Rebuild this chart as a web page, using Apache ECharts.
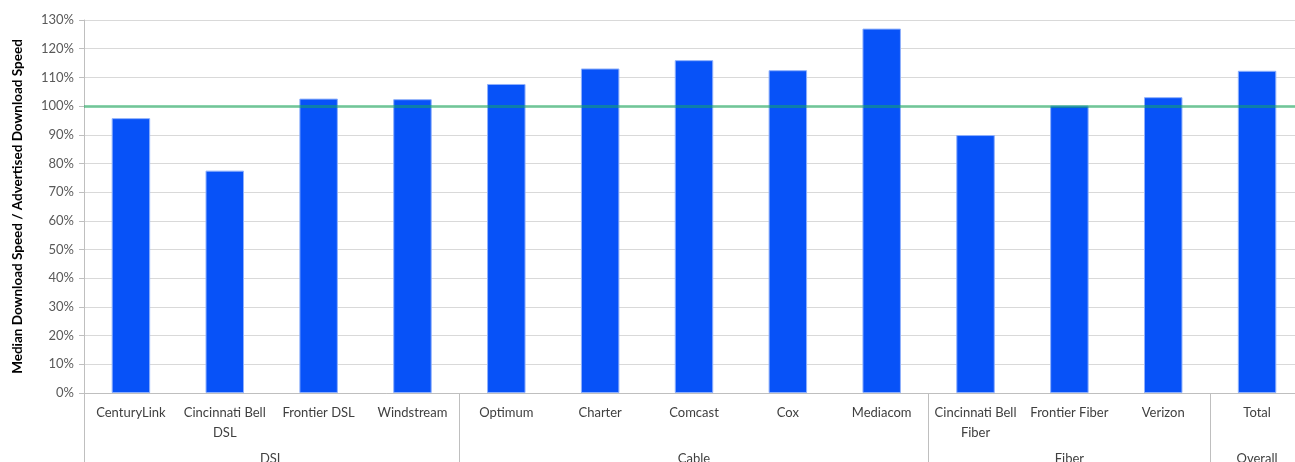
<!DOCTYPE html>
<html>
<head>
<meta charset="utf-8">
<script src="https://cdn.jsdelivr.net/npm/echarts@6/dist/echarts.min.js"></script>
<style>
  html, body { margin: 0; padding: 0; background: #ffffff; }
  #chart { width: 1295px; height: 462px; }
</style>
</head>
<body>
<div id="chart"></div>
<script>
// ---- data ----
const categories = ['CenturyLink', 'Cincinnati Bell DSL', 'Frontier DSL', 'Windstream',
  'Optimum', 'Charter', 'Comcast', 'Cox', 'Mediacom',
  'Cincinnati Bell Fiber', 'Frontier Fiber', 'Verizon', 'Total'];
const ratios = [0.958, 0.775, 1.026, 1.024, 1.077, 1.131, 1.160, 1.125, 1.270, 0.899, 1.002, 1.031, 1.123];
const groupNames = ['DSL', 'Cable', 'Fiber', 'Overall'];
const groupSizes = [4, 5, 3, 1];
const yTicks = [0, 0.1, 0.2, 0.3, 0.4, 0.5, 0.6, 0.7, 0.8, 0.9, 1.0, 1.1, 1.2, 1.3];
const referenceLevel = 1.0;
const yTitle = 'Median Download Speed / Advertised Download Speed';

// group boundaries and centers derived from group sizes
const boundaries = [0];
const centers = [];
groupSizes.forEach(function (s) {
  const start = boundaries[boundaries.length - 1];
  centers.push(start + s / 2);
  boundaries.push(start + s);
});

const font = 'Lato, "Noto Sans", sans-serif';
const chart = echarts.init(document.getElementById('chart'), null, { renderer: 'canvas' });

chart.setOption({
  animation: false,
  backgroundColor: '#ffffff',
  textStyle: { fontFamily: font },
  grid: { left: 84, top: 20, right: -9, bottom: 69, containLabel: false, outerBoundsMode: 'none' },
  xAxis: [
    {
      type: 'category',
      data: categories,
      boundaryGap: true,
      axisLine: { show: true, lineStyle: { color: '#bfbfbf', width: 1 } },
      axisTick: { show: false },
      axisLabel: {
        interval: 0,
        margin: 10,
        color: '#404040',
        fontSize: 13,
        fontFamily: font,
        lineHeight: 20,
        formatter: function (v) { return v.replace('Cincinnati Bell ', 'Cincinnati Bell\n'); }
      },
      splitLine: { show: false }
    },
    {
      type: 'value',
      position: 'bottom',
      min: 0,
      max: categories.length,
      axisLine: { show: false },
      axisTick: {
        show: true,
        customValues: boundaries,
        length: 72,
        inside: false,
        lineStyle: { color: '#bfbfbf', width: 1 }
      },
      axisLabel: {
        show: true,
        customValues: centers,
        margin: 59,
        color: '#404040',
        fontSize: 13,
        fontFamily: font,
        formatter: function (v) {
          for (let i = 0; i < centers.length; i++) {
            if (Math.abs(centers[i] - v) < 1e-6) return groupNames[i];
          }
          return '';
        }
      },
      splitLine: { show: false }
    }
  ],
  yAxis: {
    type: 'value',
    min: yTicks[0],
    max: yTicks[yTicks.length - 1],
    interval: yTicks[1] - yTicks[0],
    name: yTitle,
    nameLocation: 'middle',
    nameRotate: 90,
    nameGap: 59,
    nameTextStyle: { fontFamily: font, fontSize: 13.5, fontWeight: 'bold', color: '#000000' },
    axisLine: { show: true, lineStyle: { color: '#bfbfbf', width: 1 } },
    axisTick: { show: true, length: 5, lineStyle: { color: '#bfbfbf' } },
    axisLabel: {
      margin: 10,
      color: '#595959',
      fontSize: 13,
      fontFamily: font,
      formatter: function (v) { return Math.round(v * 100) + '%'; }
    },
    splitLine: { show: true, lineStyle: { color: '#d9d9d9', width: 1 } }
  },
  series: [
    {
      type: 'bar',
      xAxisIndex: 0,
      data: ratios,
      barWidth: '41%',
      itemStyle: { color: '#0752f8', borderColor: '#8fb0fb', borderWidth: 1 },
      markLine: {
        silent: true,
        symbol: ['none', 'none'],
        label: { show: false },
        lineStyle: { color: 'rgba(20,170,90,0.5)', width: 3, type: 'solid' },
        data: [{ yAxis: referenceLevel }]
      }
    }
  ]
});
</script>
</body>
</html>
